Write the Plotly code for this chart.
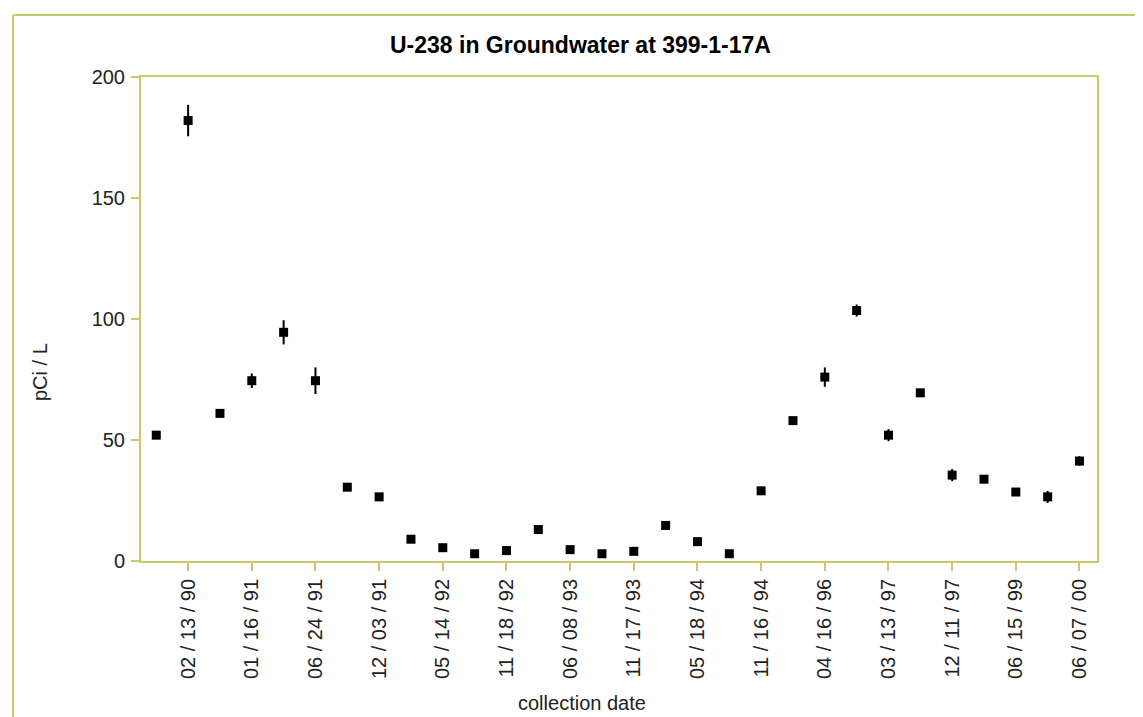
import plotly.graph_objects as go

# ---- data ----
sample_index = list(range(30))
u238_values = [52, 182, 61, 74.5, 94.5, 74.5, 30.5, 26.5, 9, 5.5, 3, 4.3, 13, 4.7, 3, 4,
               14.7, 8, 3, 29, 58, 76, 103.5, 52, 69.5, 35.5, 33.8, 28.5, 26.5, 41.3]
u238_errors = [1.5, 6.5, 1.5, 3, 5, 5.5, 1, 1, 0.8, 0.8, 0.5, 0.5, 1, 0.8, 0.5, 0.8,
               1, 1, 0.5, 1.5, 1.5, 4, 2.5, 2.5, 1.5, 2.5, 1.5, 1, 2.5, 2]
tick_positions = [1, 3, 5, 7, 9, 11, 13, 15, 17, 19, 21, 23, 25, 27, 29]
tick_labels = ["02 / 13 / 90", "01 / 16 / 91", "06 / 24 / 91", "12 / 03 / 91",
               "05 / 14 / 92", "11 / 18 / 92", "06 / 08 / 93", "11 / 17 / 93",
               "05 / 18 / 94", "11 / 16 / 94", "04 / 16 / 96", "03 / 13 / 97",
               "12 / 11 / 97", "06 / 15 / 99", "06 / 07 / 00"]
y_ticks = [0, 50, 100, 150, 200]

OLIVE = "#c9c86a"
FONT = "Liberation Sans, Arial, sans-serif"
W, H = 1143, 717
L, R, T, B = 133, 54, 69, 164
PW, PH = W - L - R, H - T - B


def px_x(px):
    return (px - L) / PW


def px_y(py):
    return (H - B - py) / PH


fig = go.Figure()
fig.add_trace(go.Scatter(
    x=sample_index, y=u238_values, mode="markers",
    marker=dict(symbol="square", size=9, color="black"),
    error_y=dict(type="data", array=u238_errors, visible=True,
                 color="black", thickness=2, width=0),
    showlegend=False, hoverinfo="x+y",
))

fig.update_layout(
    width=W, height=H,
    margin=dict(l=L, r=R, t=T, b=B, autoexpand=False),
    paper_bgcolor="white", plot_bgcolor="white",
    font=dict(family=FONT, size=20, color="#222222"),
    xaxis=dict(range=[-0.48, 29.55], tickmode="array",
               tickvals=tick_positions, ticktext=tick_labels,
               tickangle=-90, ticks="outside", ticklen=8, tickwidth=2,
               tickcolor=OLIVE, showgrid=False, zeroline=False,
               showline=True, linecolor=OLIVE, linewidth=2, mirror=True,
               ticklabelstandoff=0, tickfont=dict(size=20, color="#222222")),
    yaxis=dict(range=[0, 200], tickmode="array", tickvals=y_ticks,
               ticks="outside", ticklen=8, tickwidth=2, tickcolor=OLIVE,
               showgrid=False, zeroline=False,
               showline=True, linecolor=OLIVE, linewidth=2, mirror=True,
               ticklabelstandoff=2, tickfont=dict(size=20, color="#222222")),
)

# outer frame (top and left edges visible in the reference)
fig.add_shape(type="line", xref="paper", yref="paper",
              x0=px_x(5), y0=px_y(7), x1=px_x(W + 5), y1=px_y(7),
              line=dict(color=OLIVE, width=2))
fig.add_shape(type="line", xref="paper", yref="paper",
              x0=px_x(5), y0=px_y(7), x1=px_x(5), y1=px_y(H + 5),
              line=dict(color=OLIVE, width=2))

fig.add_annotation(text="<b>U-238 in Groundwater at 399-1-17A</b>", xref="paper", yref="paper",
                   x=px_x(380), y=px_y(37), xanchor="left", yanchor="middle",
                   showarrow=False, font=dict(family=FONT, size=23, color="black"))
fig.add_annotation(text="collection date", xref="paper", yref="paper",
                   x=px_x(574), y=px_y(695), xanchor="center", yanchor="middle",
                   showarrow=False, font=dict(family=FONT, size=20, color="#222222"))
fig.add_annotation(text="pCi / L", xref="paper", yref="paper", textangle=-90,
                   x=px_x(32), y=px_y(364), xanchor="center", yanchor="middle",
                   showarrow=False, font=dict(family=FONT, size=20, color="#222222"))

fig.write_html("out.html")
